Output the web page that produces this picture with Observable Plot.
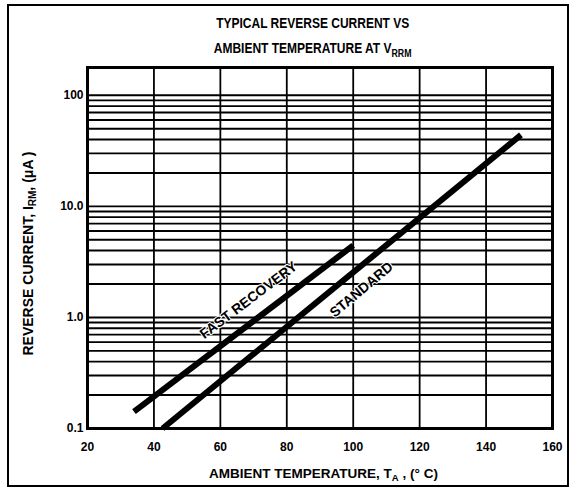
<!DOCTYPE html>
<html><head><meta charset="utf-8">
<script src="https://cdn.jsdelivr.net/npm/d3@7"></script>
<script src="https://cdn.jsdelivr.net/npm/@observablehq/plot@0.6"></script>
<style>
html,body{margin:0;padding:0;background:#fff;overflow:hidden;width:571px;height:497px}
body{font-family:"Liberation Sans",Arial,sans-serif;font-weight:bold;color:#000;position:relative}
#border{position:absolute;left:7px;top:4px;width:562px;height:483px;border:2px solid #000;box-sizing:border-box}
.tl{position:absolute;left:0;width:571px;text-align:center;font-size:15px;line-height:16px;white-space:nowrap}
.tl .in{display:inline-block;position:relative;left:27px;transform:scaleX(0.8);transform-origin:center}
.tl sub{font-size:11px;vertical-align:-4px;line-height:0}
#chart{position:absolute;left:0;top:60px}
</style></head>
<body>
<div id="border"></div>
<div class="tl" style="top:15px"><span class="in">TYPICAL REVERSE CURRENT VS</span></div>
<div class="tl" style="top:40px"><span class="in">AMBIENT TEMPERATURE AT V<sub>RRM</sub></span></div>
<div id="chart"></div>
<script>
// Data
const xTicks = [20, 40, 60, 80, 100, 120, 140, 160];
const xGrid = [40, 60, 80, 100, 120, 140];
const yTicks = [0.1, 1, 10, 100];
const yTickLabels = ["0.1", "1.0", "10.0", "100"];
const yGrid = [0.2, 0.3, 0.4, 0.5, 0.6, 0.7, 0.8, 0.9, 1, 2, 3, 4, 5, 6, 7, 8, 9, 10, 20, 30, 40, 50, 60, 70, 80, 90, 100];
const fastT = [34, 100];
const fastI = [0.142, 4.45];
const stdT = [42.6, 150.5];
const stdI = [0.1, 44];
const curveLabels = ["FAST RECOVERY", "STANDARD"];
const labelT = [68.5, 102.5];
const labelI = [1.43, 1.78];
const labelAngle = [-37, -40];

const fast = fastT.map((t, i) => ({t, i: fastI[i]}));
const std = stdT.map((t, i) => ({t, i: stdI[i]}));
const lbl = curveLabels.map((s, k) => ({s, t: labelT[k], i: labelI[k], a: labelAngle[k]}));

const plot = Plot.plot({
  width: 571,
  height: 437,
  marginLeft: 87,
  marginRight: 19,
  marginTop: 7,
  marginBottom: 69,
  style: {fontFamily: '"Liberation Sans", Arial, sans-serif', fontSize: "12px", fontWeight: "bold", color: "#000", background: "transparent", overflow: "visible"},
  x: {domain: [20, 160], ticks: xTicks, tickSize: 0, tickPadding: 14, label: null},
  y: {type: "log", domain: [0.1, 178], ticks: yTicks, tickFormat: (d) => yTickLabels[yTicks.indexOf(d)], tickSize: 0, tickPadding: 4, label: null},
  marks: [
    Plot.ruleY(yGrid, {stroke: "#000", strokeWidth: 1.9}),
    Plot.ruleX(xGrid, {stroke: "#000", strokeWidth: 1.8}),
    Plot.frame({stroke: "#000", strokeWidth: 3}),
    Plot.line(fast, {x: "t", y: "i", stroke: "#000", strokeWidth: 6, strokeLinecap: "butt"}),
    Plot.line(std, {x: "t", y: "i", stroke: "#000", strokeWidth: 6, strokeLinecap: "butt"}),
    Plot.text([lbl[0]], {x: "t", y: "i", text: "s", rotate: labelAngle[0], fontSize: 14, fontWeight: "bold", fill: "#000", stroke: "#fff", strokeWidth: 2, paintOrder: "stroke"}),
    Plot.text([lbl[1]], {x: "t", y: "i", text: "s", rotate: labelAngle[1], fontSize: 14, fontWeight: "bold", fill: "#000", stroke: "#fff", strokeWidth: 2, paintOrder: "stroke"}),
    Plot.axisX({ticks: xTicks, tickSize: 0, tickPadding: 14, label: null, fontSize: 12}),
    Plot.axisY({ticks: yTicks, tickFormat: (d) => yTickLabels[yTicks.indexOf(d)], tickSize: 0, tickPadding: 4, label: null, fontSize: 12})
  ]
});
document.getElementById("chart").appendChild(plot);

// Axis titles with subscripts
const svg = d3.select(plot);
const xr = plot.scale("x").range, yr = plot.scale("y").range;
const cx = (xr[0] + xr[1]) / 2, cy = (yr[0] + yr[1]) / 2;
const xl = svg.append("text").attr("x", cx + 4).attr("y", yr[0] + 50)
  .attr("text-anchor", "middle").attr("font-size", 13.5).attr("font-weight", "bold").attr("fill", "#000");
xl.append("tspan").text("AMBIENT TEMPERATURE, T");
xl.append("tspan").attr("font-size", 9.5).attr("dy", 3).text("A");
xl.append("tspan").attr("dy", -3).text(" , (° C)");
const yl = svg.append("text").attr("transform", `translate(33,${cy + 6}) rotate(-90)`)
  .attr("text-anchor", "middle").attr("font-size", 14).attr("font-weight", "bold").attr("fill", "#000");
yl.append("tspan").text("REVERSE CURRENT, I");
yl.append("tspan").attr("font-size", 10).attr("dy", 3).text("RM");
yl.append("tspan").attr("dy", -3).text(", (μA )");
</script>
</body></html>
